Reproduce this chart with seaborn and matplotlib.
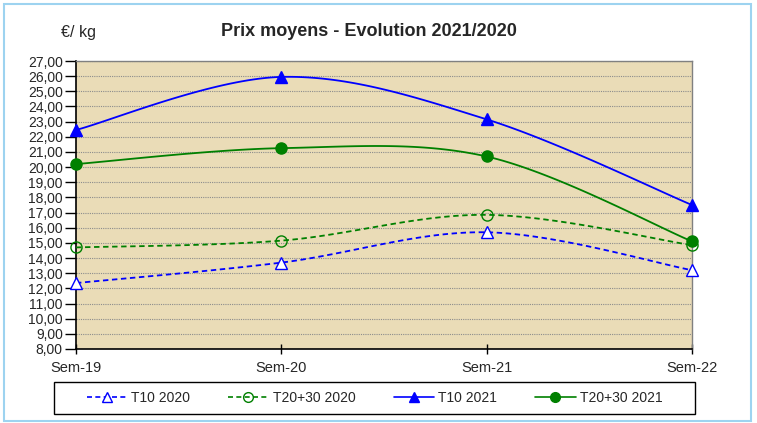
import numpy as np
import pandas as pd
import matplotlib
matplotlib.use('Agg')
import matplotlib.pyplot as plt
import seaborn as sns
from matplotlib.lines import Line2D
from matplotlib.patches import Rectangle

weeks = ['Sem-19', 'Sem-20', 'Sem-21', 'Sem-22']
t10_2020 = [12.35, 13.70, 15.70, 13.20]
t2030_2020 = [14.70, 15.15, 16.85, 14.85]
t10_2021 = [22.45, 25.95, 23.15, 17.50]
t2030_2021 = [20.20, 21.25, 20.70, 15.10]
series_names = ['T10 2020', 'T20+30 2020', 'T10 2021', 'T20+30 2021']
yticks = np.arange(8, 28, 1)
ytick_labels = [f"{v:.2f}".replace('.', ',') for v in yticks]

def smooth(xv, yv, n=40):
    P = np.column_stack([xv, yv]).astype(float)
    m = len(P)
    out = []
    for i in range(m - 1):
        p0 = P[max(i - 1, 0)]; p1 = P[i]; p2 = P[i + 1]; p3 = P[min(i + 2, m - 1)]
        b1 = p1 + (p2 - p0) / 6.0
        b2 = p2 - (p3 - p1) / 6.0
        t = np.linspace(0, 1, n)[:, None]
        seg = (1 - t) ** 3 * p1 + 3 * (1 - t) ** 2 * t * b1 + 3 * (1 - t) * t ** 2 * b2 + t ** 3 * p2
        out.append(seg if i == 0 else seg[1:])
    return np.vstack(out)

sns.set_theme(style='white')
plt.rcParams['font.family'] = ['Liberation Sans', 'DejaVu Sans']

W, H = 757, 423
fig = plt.figure(figsize=(W/100, H/100), dpi=100)
ax = fig.add_axes([76/W, 1-349/H, (692-76)/W, (349-61)/H])
ax.set_facecolor('#EADCB7')

styles = [
    dict(color='#0000FF', ls=(0, (3, 2)), marker='^', mfc='white'),
    dict(color='#008000', ls=(0, (3, 2)), marker='o', mfc='none'),
    dict(color='#0000FF', ls='-', marker='^', mfc='#0000FF'),
    dict(color='#008000', ls='-', marker='o', mfc='#008000'),
]
data = [t10_2020, t2030_2020, t10_2021, t2030_2021]
xs = np.arange(len(weeks))
for name, vals, st in zip(series_names, data, styles):
    s = smooth(xs, vals)
    df = pd.DataFrame({'x': s[:, 0], 'y': s[:, 1]})
    sns.lineplot(data=df, x='x', y='y', sort=False, estimator=None, ax=ax,
                 color=st['color'], linestyle=st['ls'], linewidth=1.3, zorder=3)
    dfp = pd.DataFrame({'x': xs, 'y': vals})
    sns.lineplot(data=dfp, x='x', y='y', sort=False, estimator=None, ax=ax,
                 color=st['color'], linestyle='', marker=st['marker'], markersize=8,
                 markerfacecolor=st['mfc'], markeredgecolor=st['color'], markeredgewidth=1.0, zorder=4,
                 clip_on=False)

ax.set_xlim(0, 3)
ax.set_ylim(8, 27)
ax.set_yticks(yticks)
ax.set_yticklabels(ytick_labels, fontsize=10)
ax.set_xticks(xs)
ax.set_xticklabels(weeks, fontsize=10.5)
ax.set_xlabel('')
ax.set_ylabel('')
ax.yaxis.grid(True, color='#8c8c8c', linestyle=(0, (1, 1)), linewidth=0.8)
ax.xaxis.grid(False)
for sp in ['left', 'bottom']:
    ax.spines[sp].set_color('black'); ax.spines[sp].set_linewidth(1.2)
for sp in ['top', 'right']:
    ax.spines[sp].set_color('#808080'); ax.spines[sp].set_linewidth(1.0)
ax.tick_params(axis='y', direction='out', length=8, width=1, color='black', pad=1.5, left=True)
ax.tick_params(axis='x', direction='inout', length=6.5, width=1, color='black', pad=5.4, bottom=True)

fig.text(369/W, 1-32/H, 'Prix moyens - Evolution 2021/2020', ha='center', va='center',
         fontsize=13, fontweight='bold')
fig.text(78.5/W, 1-32/H, '€/ kg', ha='center', va='center', fontsize=11.5)

handles = [Line2D([], [], color=st['color'], linestyle=st['ls'], marker=st['marker'],
                  markerfacecolor=st['mfc'],
                  markeredgecolor=st['color'], markersize=7, linewidth=1.2) for st in styles]
leg = fig.legend(handles, series_names, loc='center', ncol=4,
                 bbox_to_anchor=((54+695)/2/W, 1-398/H), frameon=False,
                 fontsize=10, handlelength=2.9, numpoints=1, borderaxespad=0,
                 handletextpad=0.3, columnspacing=2.75)
fig.patches.append(Rectangle((54/W, 1-414/H), (695-54)/W, 32/H, transform=fig.transFigure,
                             fill=False, edgecolor='black', linewidth=1.0))

fig.patches.append(Rectangle((4/W, 2/H), 747/W, 417/H, transform=fig.transFigure,
                             fill=False, edgecolor='#9DD3F0', linewidth=1.5))

fig.savefig('out.png', dpi=100)
